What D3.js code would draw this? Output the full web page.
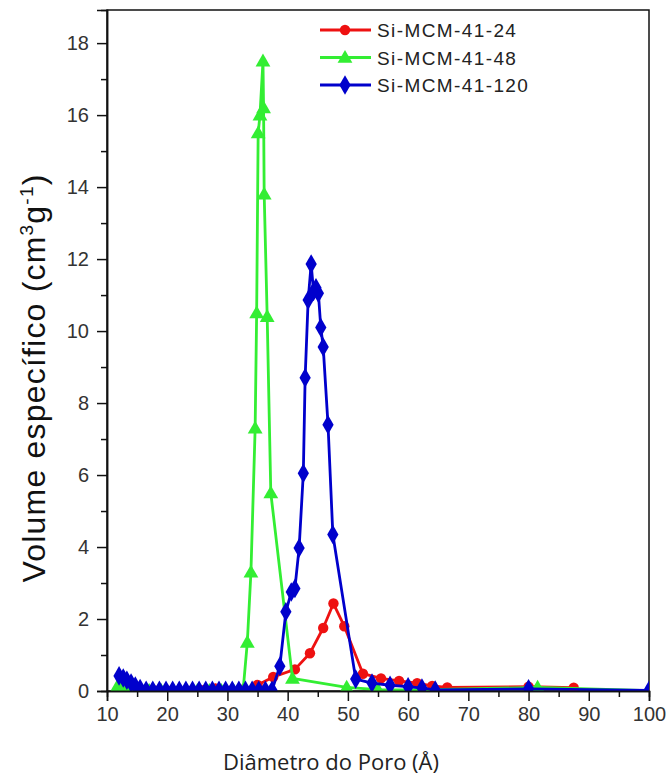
<!DOCTYPE html>
<html>
<head>
<meta charset="utf-8">
<script src="https://cdn.jsdelivr.net/npm/d3@7/dist/d3.min.js"></script>
<style>
  html, body { margin: 0; padding: 0; background: #fff; }
  svg { display: block; }
</style>
</head>
<body>
<svg id="chart" width="670" height="780"></svg>
<script>
// ---- data ----
const seriesNames = ["Si-MCM-41-24", "Si-MCM-41-48", "Si-MCM-41-120"];

const redX = [12, 13, 14, 16, 18, 20, 22, 24, 26, 28, 30.5, 32.6, 35, 37.6, 41.2, 43.7, 45.9, 47.6, 49.4, 52.5, 55.5, 58.5, 61.5, 64, 66.5, 80, 87.5];
const redY = [0.05, 0.04, 0.03, 0.02, 0.01, 0.01, 0.01, 0.01, 0.02, 0.07, 0.01, 0.04, 0.17, 0.39, 0.6, 1.05, 1.75, 2.43, 1.8, 0.48, 0.35, 0.28, 0.22, 0.14, 0.1, 0.12, 0.09];

const greenX = [11.8, 12.8, 13.8, 15, 17, 19, 21, 23, 25, 27, 29, 31, 32.6, 33.3, 33.9, 34.6, 34.85, 35.1, 35.4, 35.9, 36.0, 36.1, 36.6, 37.2, 40.8, 49.8, 55, 62, 81.5, 100];
const greenY = [0.15, 0.12, 0.08, 0.02, 0.01, 0.01, 0.01, 0.01, 0.01, 0.01, 0.01, 0.01, 0.02, 1.35, 3.3, 7.3, 10.5, 15.5, 16.0, 17.5, 16.2, 13.8, 10.4, 5.5, 0.35, 0.1, 0.04, 0.03, 0.1, 0.01];

const blueX = [12, 12.7, 13.3, 14, 14.7, 15.5, 16.5, 17.6, 18.7, 19.8, 20.9, 22, 23.1, 24.2, 25.3, 26.4, 27.5, 28.6, 29.7, 30.8, 31.9, 33, 34.1, 35.2, 36.3, 37.4, 38.7, 39.7, 40.6, 41.2, 41.9, 42.6, 42.9, 43.4, 43.9, 44.3, 44.7, 45.1, 45.5, 45.9, 46.7, 47.5, 51.3, 54, 57, 60, 62.3, 64.5, 80, 100];
const blueY = [0.42, 0.36, 0.3, 0.22, 0.14, 0.07, 0.02, 0.02, 0.02, 0.02, 0.02, 0.02, 0.02, 0.02, 0.02, 0.02, 0.02, 0.02, 0.02, 0.02, 0.02, 0.02, 0.02, 0.02, 0.02, 0.02, 0.69, 2.2, 2.75, 2.85, 3.97, 6.05, 8.7, 10.86, 11.86, 11.1, 11.2, 11.05, 10.1, 9.56, 7.4, 4.35, 0.33, 0.22, 0.16, 0.12, 0.08, 0.03, 0.06, 0.02];

const xTicks = [10, 20, 30, 40, 50, 60, 70, 80, 90, 100];
const yTicks = [0, 2, 4, 6, 8, 10, 12, 14, 16, 18];

// ---- layout ----
(function () {
const svg = d3.select("#chart");
const pL = 107, pR = 649, pT = 10, pB = 691;
const x = d3.scaleLinear().domain([10, 100]).range([pL, pR]);
const y = d3.scaleLinear().domain([0, 18.92]).range([pB, pT]);

const colors = ["#ee1111", "#33ee33", "#0000cc"];
const symbols = [d3.symbolCircle, d3.symbolTriangle, d3.symbolDiamond];
const symSizes = [85, 95, 110];

const series = [
  { name: seriesNames[0], xs: redX, ys: redY },
  { name: seriesNames[1], xs: greenX, ys: greenY },
  { name: seriesNames[2], xs: blueX, ys: blueY }
];

svg.append("defs").append("clipPath").attr("id", "plotclip")
  .append("rect").attr("x", pL).attr("y", pT).attr("width", pR - pL).attr("height", pB - pT);

// frame
svg.append("rect").attr("x", pL).attr("y", pT).attr("width", pR - pL).attr("height", pB - pT)
  .attr("fill", "none").attr("stroke", "#111").attr("stroke-width", 1.5);

// axes
const tickFont = "'Liberation Sans', Arial, sans-serif";
const xAxis = d3.axisBottom(x).tickValues(xTicks).tickSize(10).tickPadding(6).tickFormat(d3.format("d"));
const xMinor = d3.axisBottom(x).tickValues(d3.range(15, 100, 10)).tickSize(6).tickFormat("");
const yAxis = d3.axisLeft(y).tickValues(yTicks).tickSize(10).tickPadding(8).tickFormat(d3.format("d"));
const yMinor = d3.axisLeft(y).tickValues(d3.range(1, 19, 2)).tickSize(6).tickFormat("");

function styleAxis(g) {
  g.select(".domain").attr("stroke", "#111").attr("stroke-width", 1.5);
  g.selectAll(".tick line").attr("stroke", "#111").attr("stroke-width", 1.5);
  g.selectAll(".tick text").attr("fill", "#333").style("font-family", tickFont).style("font-size", "20px");
}

// series (clipped to plot area)
const plot = svg.append("g").attr("clip-path", "url(#plotclip)");
const line = d3.line().x(d => x(d[0])).y(d => y(d[1]));
series.forEach((s, i) => {
  const pts = s.xs.map((v, k) => [v, s.ys[k]]);
  const g = plot.append("g");
  g.append("path").datum(pts).attr("d", line).attr("fill", "none")
    .attr("stroke", colors[i]).attr("stroke-width", 2.8).attr("stroke-linejoin", "round");
  g.selectAll("path.m").data(pts).enter().append("path").attr("class", "m")
    .attr("d", d3.symbol().type(symbols[i]).size(symSizes[i]))
    .attr("transform", d => `translate(${x(d[0])},${y(d[1]) + (i === 1 ? 1 : 0)})`)
    .attr("fill", colors[i]);
});

svg.append("g").attr("transform", `translate(0,${pB})`).call(xMinor).call(styleAxis);
svg.append("g").attr("transform", `translate(0,${pB})`).call(xAxis).call(styleAxis);
svg.append("g").attr("transform", `translate(${pL},0)`).call(yMinor).call(styleAxis);
svg.append("g").attr("transform", `translate(${pL},0)`).call(yAxis).call(styleAxis);

// legend
const legend = svg.append("g");
series.forEach((s, i) => {
  const ly = 30 + i * 27.5;
  legend.append("line").attr("x1", 320).attr("x2", 371).attr("y1", ly).attr("y2", ly)
    .attr("stroke", colors[i]).attr("stroke-width", 2.8);
  legend.append("path").attr("d", d3.symbol().type(symbols[i]).size(symSizes[i]))
    .attr("transform", `translate(345,${ly + (i === 1 ? 1 : 0)})`).attr("fill", colors[i]);
  legend.append("text").attr("x", 377).attr("y", ly + 7).text(s.name)
    .attr("fill", "#222").style("font-family", tickFont).style("font-size", "19px")
    .style("letter-spacing", "1.4px");
});

// axis titles
svg.append("text").attr("x", 331).attr("y", 770).attr("text-anchor", "middle")
  .attr("fill", "#222").style("font-family", "'Open Sans', sans-serif").style("font-size", "22px")
  .text("Diâmetro do Poro (Å)");

const yt = svg.append("text").attr("transform", "translate(45,378) rotate(-90)")
  .attr("text-anchor", "middle").attr("fill", "#111")
  .style("font-family", tickFont).style("font-size", "32px").style("letter-spacing", "1.2px");
yt.append("tspan").text("Volume específico (cm");
yt.append("tspan").attr("dy", -12).style("font-size", "19px").text("3");
yt.append("tspan").attr("dy", 12).text("g");
yt.append("tspan").attr("dy", -12).style("font-size", "19px").text("-1");
yt.append("tspan").attr("dy", 12).text(")");
})();
</script>
</body>
</html>
